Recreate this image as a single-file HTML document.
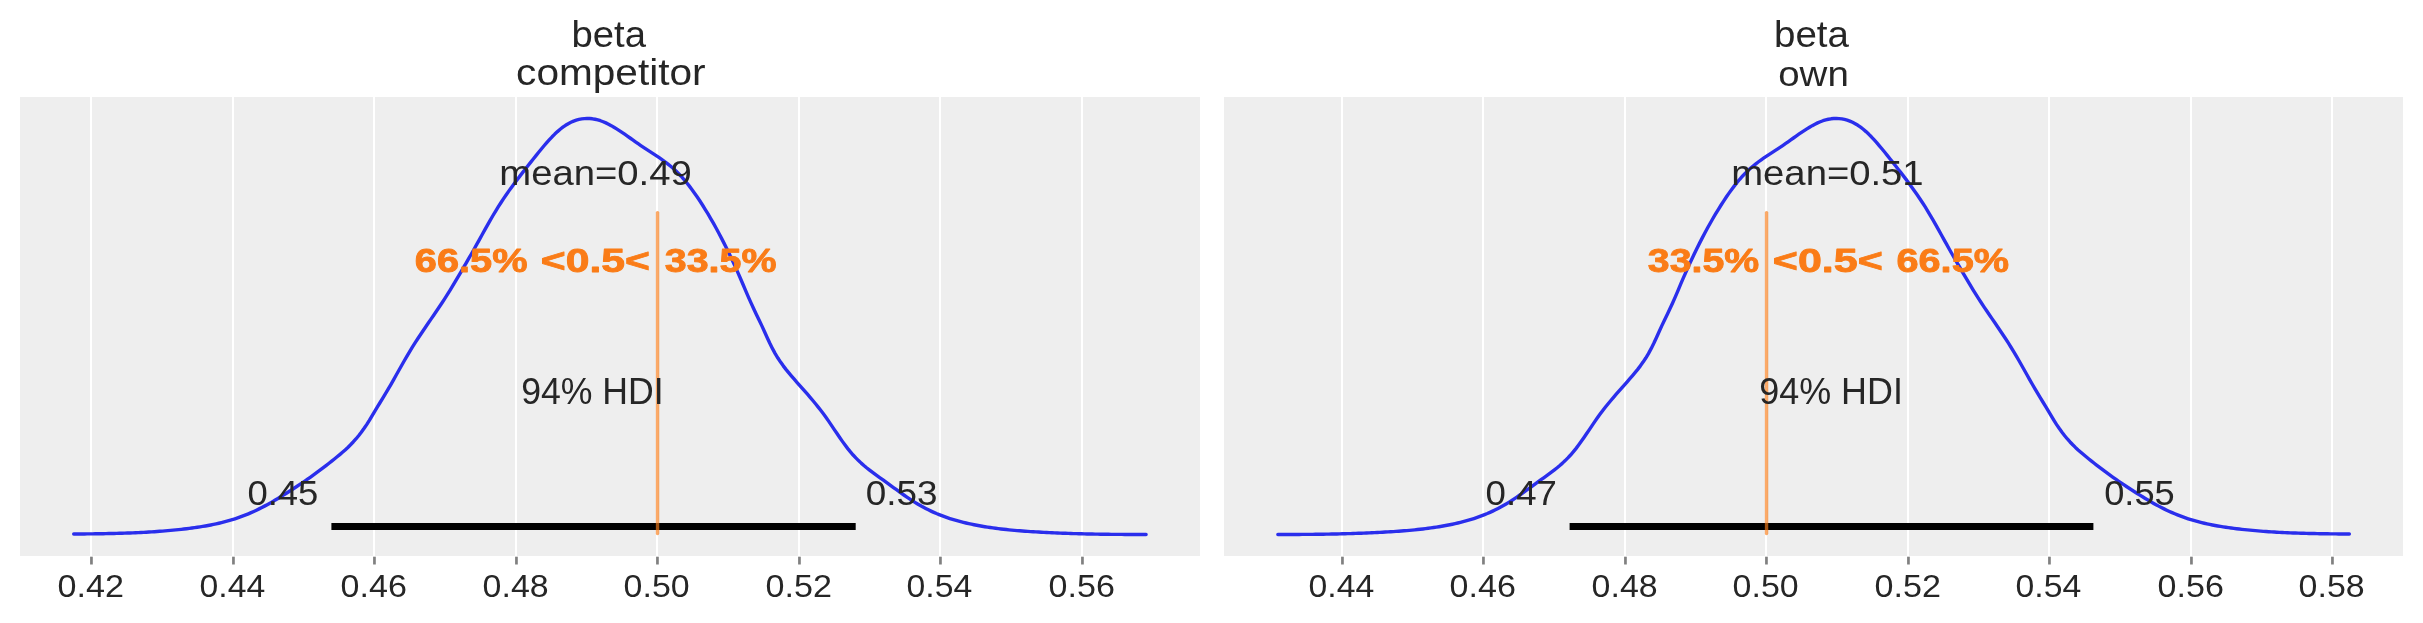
<!DOCTYPE html>
<html lang="en">
<head>
<meta charset="utf-8">
<title>Posterior plot: beta competitor / beta own</title>
<style>
html,body{margin:0;padding:0;background:#ffffff;}
body{width:2423px;height:623px;overflow:hidden;font-family:"Liberation Sans",sans-serif;}
svg{display:block;will-change:transform;}
text{font-family:"Liberation Sans",sans-serif;}
</style>
</head>
<body>
<svg width="2423" height="623" viewBox="0 0 2423 623">
<rect x="0" y="0" width="2423" height="623" fill="#ffffff"/>

<g id="panel-competitor">
<rect x="20" y="97" width="1180" height="459" fill="#eeeeee"/>
<rect x="90" y="97" width="2" height="459" fill="#ffffff"/>
<rect x="232" y="97" width="2" height="459" fill="#ffffff"/>
<rect x="373" y="97" width="2" height="459" fill="#ffffff"/>
<rect x="515" y="97" width="2" height="459" fill="#ffffff"/>
<rect x="656" y="97" width="2" height="459" fill="#ffffff"/>
<rect x="798" y="97" width="2" height="459" fill="#ffffff"/>
<rect x="939" y="97" width="2" height="459" fill="#ffffff"/>
<rect x="1081" y="97" width="2" height="459" fill="#ffffff"/>
<rect x="90.10" y="556.7" width="2.7" height="7.8" fill="#808080"/>
<rect x="232.10" y="556.7" width="2.7" height="7.8" fill="#808080"/>
<rect x="373.10" y="556.7" width="2.7" height="7.8" fill="#808080"/>
<rect x="515.10" y="556.7" width="2.7" height="7.8" fill="#808080"/>
<rect x="656.10" y="556.7" width="2.7" height="7.8" fill="#808080"/>
<rect x="798.10" y="556.7" width="2.7" height="7.8" fill="#808080"/>
<rect x="939.10" y="556.7" width="2.7" height="7.8" fill="#808080"/>
<rect x="1081.10" y="556.7" width="2.7" height="7.8" fill="#808080"/>
<path d="M73.70,534.06 L76.39,534.04 L79.08,534.01 L81.76,533.98 L84.45,533.95 L87.14,533.92 L89.83,533.88 L92.51,533.85 L95.20,533.81 L97.89,533.77 L100.58,533.73 L103.26,533.68 L105.95,533.63 L108.64,533.57 L111.33,533.52 L114.02,533.45 L116.70,533.38 L119.39,533.31 L122.08,533.23 L124.77,533.14 L127.45,533.05 L130.14,532.95 L132.83,532.84 L135.52,532.73 L138.21,532.61 L140.89,532.48 L143.58,532.34 L146.27,532.19 L148.96,532.04 L151.64,531.87 L154.33,531.70 L157.02,531.51 L159.71,531.32 L162.39,531.11 L165.08,530.89 L167.77,530.66 L170.46,530.42 L173.15,530.17 L175.83,529.90 L178.52,529.62 L181.21,529.33 L183.90,529.03 L186.58,528.71 L189.27,528.37 L191.96,528.02 L194.65,527.65 L197.34,527.27 L200.02,526.85 L202.71,526.42 L205.40,525.96 L208.09,525.48 L210.77,524.96 L213.46,524.42 L216.15,523.84 L218.84,523.23 L221.52,522.59 L224.21,521.90 L226.90,521.18 L229.59,520.42 L232.28,519.62 L234.96,518.77 L237.65,517.87 L240.34,516.93 L243.03,515.94 L245.71,514.90 L248.40,513.81 L251.09,512.66 L253.78,511.46 L256.46,510.20 L259.15,508.89 L261.84,507.53 L264.53,506.12 L267.22,504.66 L269.90,503.17 L272.59,501.63 L275.28,500.06 L277.97,498.46 L280.65,496.82 L283.34,495.16 L286.03,493.47 L288.72,491.76 L291.41,490.02 L294.09,488.27 L296.78,486.50 L299.47,484.70 L302.16,482.88 L304.84,481.04 L307.53,479.18 L310.22,477.29 L312.91,475.37 L315.59,473.43 L318.28,471.46 L320.97,469.46 L323.66,467.43 L326.35,465.37 L329.03,463.27 L331.72,461.15 L334.41,458.99 L337.10,456.80 L339.78,454.57 L342.47,452.28 L345.16,449.91 L347.85,447.41 L350.54,444.78 L353.22,441.98 L355.91,438.98 L358.60,435.76 L361.29,432.30 L363.97,428.57 L366.66,424.58 L369.35,420.30 L372.04,415.80 L374.72,411.28 L377.41,406.85 L380.10,402.49 L382.79,398.13 L385.48,393.71 L388.16,389.18 L390.85,384.53 L393.54,379.81 L396.23,375.03 L398.91,370.25 L401.60,365.48 L404.29,360.76 L406.98,356.13 L409.66,351.61 L412.35,347.22 L415.04,342.95 L417.73,338.79 L420.42,334.72 L423.10,330.71 L425.79,326.75 L428.48,322.83 L431.17,318.91 L433.85,314.99 L436.54,311.05 L439.23,307.07 L441.92,303.03 L444.61,298.91 L447.29,294.70 L449.98,290.37 L452.67,285.94 L455.36,281.42 L458.04,276.86 L460.73,272.27 L463.42,267.68 L466.11,263.08 L468.79,258.45 L471.48,253.77 L474.17,249.01 L476.86,244.19 L479.55,239.34 L482.23,234.48 L484.92,229.64 L487.61,224.84 L490.30,220.12 L492.98,215.51 L495.67,211.02 L498.36,206.69 L501.05,202.49 L503.74,198.43 L506.42,194.48 L509.11,190.64 L511.80,186.90 L514.49,183.24 L517.17,179.65 L519.86,176.13 L522.55,172.65 L525.24,169.21 L527.92,165.80 L530.61,162.39 L533.30,159.00 L535.99,155.62 L538.68,152.27 L541.36,148.98 L544.05,145.77 L546.74,142.65 L549.43,139.66 L552.11,136.80 L554.80,134.11 L557.49,131.59 L560.18,129.28 L562.86,127.19 L565.55,125.33 L568.24,123.71 L570.93,122.31 L573.62,121.14 L576.30,120.19 L578.99,119.45 L581.68,118.92 L584.37,118.59 L587.05,118.47 L589.74,118.55 L592.43,118.81 L595.12,119.27 L597.81,119.91 L600.49,120.73 L603.18,121.73 L605.87,122.88 L608.56,124.19 L611.24,125.63 L613.93,127.18 L616.62,128.83 L619.31,130.57 L621.99,132.37 L624.68,134.22 L627.37,136.10 L630.06,138.00 L632.75,139.91 L635.43,141.81 L638.12,143.70 L640.81,145.55 L643.50,147.37 L646.18,149.14 L648.87,150.88 L651.56,152.61 L654.25,154.35 L656.94,156.12 L659.62,157.93 L662.31,159.80 L665.00,161.76 L667.69,163.81 L670.37,165.99 L673.06,168.30 L675.75,170.76 L678.44,173.40 L681.12,176.24 L683.81,179.26 L686.50,182.48 L689.19,185.87 L691.88,189.43 L694.56,193.15 L697.25,197.03 L699.94,201.06 L702.63,205.23 L705.31,209.53 L708.00,213.96 L710.69,218.52 L713.38,223.21 L716.06,228.04 L718.75,233.01 L721.44,238.12 L724.13,243.37 L726.82,248.77 L729.50,254.32 L732.19,260.01 L734.88,265.85 L737.57,271.83 L740.25,277.95 L742.94,284.21 L745.63,290.56 L748.32,296.84 L751.01,302.93 L753.69,308.79 L756.38,314.42 L759.07,319.97 L761.76,325.64 L764.44,331.53 L767.13,337.51 L769.82,343.31 L772.51,348.69 L775.19,353.58 L777.88,358.02 L780.57,362.10 L783.26,365.86 L785.95,369.36 L788.63,372.67 L791.32,375.86 L794.01,378.96 L796.70,382.03 L799.38,385.07 L802.07,388.10 L804.76,391.15 L807.45,394.21 L810.14,397.32 L812.82,400.49 L815.51,403.73 L818.20,407.07 L820.89,410.51 L823.57,414.08 L826.26,417.80 L828.95,421.65 L831.64,425.59 L834.32,429.58 L837.01,433.56 L839.70,437.51 L842.39,441.36 L845.08,445.08 L847.76,448.62 L850.45,451.94 L853.14,455.03 L855.83,457.91 L858.51,460.60 L861.20,463.13 L863.89,465.50 L866.58,467.75 L869.26,469.89 L871.95,471.95 L874.64,473.94 L877.33,475.89 L880.02,477.80 L882.70,479.72 L885.39,481.65 L888.08,483.59 L890.77,485.55 L893.45,487.52 L896.14,489.48 L898.83,491.42 L901.52,493.35 L904.21,495.25 L906.89,497.11 L909.58,498.93 L912.27,500.69 L914.96,502.39 L917.64,504.02 L920.33,505.58 L923.02,507.07 L925.71,508.49 L928.39,509.84 L931.08,511.13 L933.77,512.36 L936.46,513.53 L939.15,514.63 L941.83,515.69 L944.52,516.69 L947.21,517.64 L949.90,518.54 L952.58,519.39 L955.27,520.19 L957.96,520.96 L960.65,521.68 L963.34,522.36 L966.02,523.01 L968.71,523.63 L971.40,524.21 L974.09,524.76 L976.77,525.28 L979.46,525.78 L982.15,526.25 L984.84,526.70 L987.52,527.13 L990.21,527.53 L992.90,527.92 L995.59,528.28 L998.28,528.63 L1000.96,528.96 L1003.65,529.27 L1006.34,529.56 L1009.03,529.84 L1011.71,530.10 L1014.40,530.35 L1017.09,530.58 L1019.78,530.81 L1022.46,531.02 L1025.15,531.22 L1027.84,531.41 L1030.53,531.58 L1033.22,531.76 L1035.90,531.92 L1038.59,532.07 L1041.28,532.22 L1043.97,532.37 L1046.65,532.51 L1049.34,532.64 L1052.03,532.77 L1054.72,532.89 L1057.41,533.00 L1060.09,533.11 L1062.78,533.22 L1065.47,533.32 L1068.16,533.41 L1070.84,533.50 L1073.53,533.59 L1076.22,533.67 L1078.91,533.75 L1081.59,533.82 L1084.28,533.89 L1086.97,533.95 L1089.66,534.01 L1092.35,534.06 L1095.03,534.11 L1097.72,534.16 L1100.41,534.20 L1103.10,534.24 L1105.78,534.28 L1108.47,534.31 L1111.16,534.34 L1113.85,534.37 L1116.54,534.39 L1119.22,534.41 L1121.91,534.42 L1124.60,534.44 L1127.29,534.45 L1129.97,534.46 L1132.66,534.46 L1135.35,534.46 L1138.04,534.46 L1140.72,534.46 L1143.41,534.46 L1146.10,534.45" fill="none" stroke="#2a2eec" stroke-width="3.4" stroke-linecap="round" stroke-linejoin="round"/>
<line x1="331.4" y1="526.4" x2="855.7" y2="526.4" stroke="#000000" stroke-width="7" stroke-linecap="butt"/>
<line x1="657.55" y1="212.6" x2="657.55" y2="533.5" stroke="#fa7c17" stroke-opacity="0.65" stroke-width="3.4" stroke-linecap="round"/>
</g>
<g id="panel-own">
<rect x="1224" y="97" width="1179" height="459" fill="#eeeeee"/>
<rect x="1341" y="97" width="2" height="459" fill="#ffffff"/>
<rect x="1482" y="97" width="2" height="459" fill="#ffffff"/>
<rect x="1624" y="97" width="2" height="459" fill="#ffffff"/>
<rect x="1765" y="97" width="2" height="459" fill="#ffffff"/>
<rect x="1907" y="97" width="2" height="459" fill="#ffffff"/>
<rect x="2048" y="97" width="2" height="459" fill="#ffffff"/>
<rect x="2190" y="97" width="2" height="459" fill="#ffffff"/>
<rect x="2331" y="97" width="2" height="459" fill="#ffffff"/>
<rect x="1341.10" y="556.7" width="2.7" height="7.8" fill="#808080"/>
<rect x="1482.10" y="556.7" width="2.7" height="7.8" fill="#808080"/>
<rect x="1624.10" y="556.7" width="2.7" height="7.8" fill="#808080"/>
<rect x="1765.10" y="556.7" width="2.7" height="7.8" fill="#808080"/>
<rect x="1907.10" y="556.7" width="2.7" height="7.8" fill="#808080"/>
<rect x="2048.10" y="556.7" width="2.7" height="7.8" fill="#808080"/>
<rect x="2190.10" y="556.7" width="2.7" height="7.8" fill="#808080"/>
<rect x="2331.10" y="556.7" width="2.7" height="7.8" fill="#808080"/>
<path d="M1277.85,534.45 L1280.54,534.46 L1283.23,534.46 L1285.91,534.46 L1288.60,534.46 L1291.28,534.46 L1293.97,534.46 L1296.65,534.45 L1299.34,534.44 L1302.02,534.42 L1304.71,534.41 L1307.39,534.39 L1310.08,534.37 L1312.77,534.34 L1315.45,534.31 L1318.14,534.28 L1320.82,534.24 L1323.51,534.20 L1326.19,534.16 L1328.88,534.11 L1331.56,534.06 L1334.25,534.01 L1336.93,533.95 L1339.62,533.89 L1342.30,533.82 L1344.99,533.75 L1347.68,533.67 L1350.36,533.59 L1353.05,533.50 L1355.73,533.41 L1358.42,533.32 L1361.10,533.22 L1363.79,533.11 L1366.47,533.00 L1369.16,532.89 L1371.84,532.77 L1374.53,532.64 L1377.22,532.51 L1379.90,532.37 L1382.59,532.22 L1385.27,532.07 L1387.96,531.92 L1390.64,531.76 L1393.33,531.58 L1396.01,531.41 L1398.70,531.22 L1401.38,531.02 L1404.07,530.81 L1406.76,530.58 L1409.44,530.35 L1412.13,530.10 L1414.81,529.84 L1417.50,529.56 L1420.18,529.27 L1422.87,528.96 L1425.55,528.63 L1428.24,528.28 L1430.92,527.92 L1433.61,527.53 L1436.30,527.13 L1438.98,526.70 L1441.67,526.25 L1444.35,525.78 L1447.04,525.28 L1449.72,524.76 L1452.41,524.21 L1455.09,523.63 L1457.78,523.01 L1460.46,522.36 L1463.15,521.68 L1465.84,520.96 L1468.52,520.19 L1471.21,519.39 L1473.89,518.54 L1476.58,517.64 L1479.26,516.69 L1481.95,515.69 L1484.63,514.63 L1487.32,513.53 L1490.00,512.36 L1492.69,511.13 L1495.38,509.84 L1498.06,508.49 L1500.75,507.07 L1503.43,505.58 L1506.12,504.02 L1508.80,502.39 L1511.49,500.69 L1514.17,498.93 L1516.86,497.11 L1519.54,495.25 L1522.23,493.35 L1524.91,491.42 L1527.60,489.48 L1530.29,487.52 L1532.97,485.55 L1535.66,483.59 L1538.34,481.65 L1541.03,479.72 L1543.71,477.80 L1546.40,475.89 L1549.08,473.94 L1551.77,471.95 L1554.45,469.89 L1557.14,467.75 L1559.83,465.50 L1562.51,463.13 L1565.20,460.60 L1567.88,457.91 L1570.57,455.03 L1573.25,451.94 L1575.94,448.62 L1578.62,445.08 L1581.31,441.36 L1583.99,437.51 L1586.68,433.56 L1589.37,429.58 L1592.05,425.59 L1594.74,421.65 L1597.42,417.80 L1600.11,414.08 L1602.79,410.51 L1605.48,407.07 L1608.16,403.73 L1610.85,400.49 L1613.53,397.32 L1616.22,394.21 L1618.91,391.15 L1621.59,388.10 L1624.28,385.07 L1626.96,382.03 L1629.65,378.96 L1632.33,375.86 L1635.02,372.67 L1637.70,369.36 L1640.39,365.86 L1643.07,362.10 L1645.76,358.02 L1648.45,353.58 L1651.13,348.69 L1653.82,343.31 L1656.50,337.51 L1659.19,331.53 L1661.87,325.64 L1664.56,319.97 L1667.24,314.42 L1669.93,308.79 L1672.61,302.93 L1675.30,296.84 L1677.99,290.56 L1680.67,284.21 L1683.36,277.95 L1686.04,271.83 L1688.73,265.85 L1691.41,260.01 L1694.10,254.32 L1696.78,248.77 L1699.47,243.37 L1702.15,238.12 L1704.84,233.01 L1707.52,228.04 L1710.21,223.21 L1712.90,218.52 L1715.58,213.96 L1718.27,209.53 L1720.95,205.23 L1723.64,201.06 L1726.32,197.03 L1729.01,193.15 L1731.69,189.43 L1734.38,185.87 L1737.06,182.48 L1739.75,179.26 L1742.44,176.24 L1745.12,173.40 L1747.81,170.76 L1750.49,168.30 L1753.18,165.99 L1755.86,163.81 L1758.55,161.76 L1761.23,159.80 L1763.92,157.93 L1766.60,156.12 L1769.29,154.35 L1771.98,152.61 L1774.66,150.88 L1777.35,149.14 L1780.03,147.37 L1782.72,145.55 L1785.40,143.70 L1788.09,141.81 L1790.77,139.91 L1793.46,138.00 L1796.14,136.10 L1798.83,134.22 L1801.52,132.37 L1804.20,130.57 L1806.89,128.83 L1809.57,127.18 L1812.26,125.63 L1814.94,124.19 L1817.63,122.88 L1820.31,121.73 L1823.00,120.73 L1825.68,119.91 L1828.37,119.27 L1831.06,118.81 L1833.74,118.55 L1836.43,118.47 L1839.11,118.59 L1841.80,118.92 L1844.48,119.45 L1847.17,120.19 L1849.85,121.14 L1852.54,122.31 L1855.22,123.71 L1857.91,125.33 L1860.60,127.19 L1863.28,129.28 L1865.97,131.59 L1868.65,134.11 L1871.34,136.80 L1874.02,139.66 L1876.71,142.65 L1879.39,145.77 L1882.08,148.98 L1884.76,152.27 L1887.45,155.62 L1890.13,159.00 L1892.82,162.39 L1895.51,165.80 L1898.19,169.21 L1900.88,172.65 L1903.56,176.13 L1906.25,179.65 L1908.93,183.24 L1911.62,186.90 L1914.30,190.64 L1916.99,194.48 L1919.67,198.43 L1922.36,202.49 L1925.05,206.69 L1927.73,211.02 L1930.42,215.51 L1933.10,220.12 L1935.79,224.84 L1938.47,229.64 L1941.16,234.48 L1943.84,239.34 L1946.53,244.19 L1949.21,249.01 L1951.90,253.77 L1954.59,258.45 L1957.27,263.08 L1959.96,267.68 L1962.64,272.27 L1965.33,276.86 L1968.01,281.42 L1970.70,285.94 L1973.38,290.37 L1976.07,294.70 L1978.75,298.91 L1981.44,303.03 L1984.13,307.07 L1986.81,311.05 L1989.50,314.99 L1992.18,318.91 L1994.87,322.83 L1997.55,326.75 L2000.24,330.71 L2002.92,334.72 L2005.61,338.79 L2008.29,342.95 L2010.98,347.22 L2013.67,351.61 L2016.35,356.13 L2019.04,360.76 L2021.72,365.48 L2024.41,370.25 L2027.09,375.03 L2029.78,379.81 L2032.46,384.53 L2035.15,389.18 L2037.83,393.71 L2040.52,398.13 L2043.21,402.49 L2045.89,406.85 L2048.58,411.28 L2051.26,415.80 L2053.95,420.30 L2056.63,424.58 L2059.32,428.57 L2062.00,432.30 L2064.69,435.76 L2067.37,438.98 L2070.06,441.98 L2072.75,444.78 L2075.43,447.41 L2078.12,449.91 L2080.80,452.28 L2083.49,454.57 L2086.17,456.80 L2088.86,458.99 L2091.54,461.15 L2094.23,463.27 L2096.91,465.37 L2099.60,467.43 L2102.28,469.46 L2104.97,471.46 L2107.66,473.43 L2110.34,475.37 L2113.03,477.29 L2115.71,479.18 L2118.40,481.04 L2121.08,482.88 L2123.77,484.70 L2126.45,486.50 L2129.14,488.27 L2131.82,490.02 L2134.51,491.76 L2137.20,493.47 L2139.88,495.16 L2142.57,496.82 L2145.25,498.46 L2147.94,500.06 L2150.62,501.63 L2153.31,503.17 L2155.99,504.66 L2158.68,506.12 L2161.36,507.53 L2164.05,508.89 L2166.74,510.20 L2169.42,511.46 L2172.11,512.66 L2174.79,513.81 L2177.48,514.90 L2180.16,515.94 L2182.85,516.93 L2185.53,517.87 L2188.22,518.77 L2190.90,519.62 L2193.59,520.42 L2196.28,521.18 L2198.96,521.90 L2201.65,522.59 L2204.33,523.23 L2207.02,523.84 L2209.70,524.42 L2212.39,524.96 L2215.07,525.48 L2217.76,525.96 L2220.44,526.42 L2223.13,526.85 L2225.82,527.27 L2228.50,527.65 L2231.19,528.02 L2233.87,528.37 L2236.56,528.71 L2239.24,529.03 L2241.93,529.33 L2244.61,529.62 L2247.30,529.90 L2249.98,530.17 L2252.67,530.42 L2255.36,530.66 L2258.04,530.89 L2260.73,531.11 L2263.41,531.32 L2266.10,531.51 L2268.78,531.70 L2271.47,531.87 L2274.15,532.04 L2276.84,532.19 L2279.52,532.34 L2282.21,532.48 L2284.89,532.61 L2287.58,532.73 L2290.27,532.84 L2292.95,532.95 L2295.64,533.05 L2298.32,533.14 L2301.01,533.23 L2303.69,533.31 L2306.38,533.38 L2309.06,533.45 L2311.75,533.52 L2314.43,533.57 L2317.12,533.63 L2319.81,533.68 L2322.49,533.73 L2325.18,533.77 L2327.86,533.81 L2330.55,533.85 L2333.23,533.88 L2335.92,533.92 L2338.60,533.95 L2341.29,533.98 L2343.97,534.01 L2346.66,534.04 L2349.35,534.06" fill="none" stroke="#2a2eec" stroke-width="3.4" stroke-linecap="round" stroke-linejoin="round"/>
<line x1="1569.6" y1="526.4" x2="2093.4" y2="526.4" stroke="#000000" stroke-width="7" stroke-linecap="butt"/>
<line x1="1766.55" y1="212.6" x2="1766.55" y2="533.5" stroke="#fa7c17" stroke-opacity="0.65" stroke-width="3.4" stroke-linecap="round"/>
</g>
<g id="labels">
<text transform="translate(571.56,47.23) scale(1.0335,1.0000)" font-size="37.01" font-weight="normal" fill="#262626" xml:space="preserve">beta</text>
<text transform="translate(516.12,84.83) scale(1.0967,1.0000)" font-size="37.01" font-weight="normal" fill="#262626" xml:space="preserve">competitor</text>
<text transform="translate(499.36,184.95) scale(1.0820,1.0000)" font-size="35.35" font-weight="normal" fill="#262626" xml:space="preserve">mean=0.49</text>
<text transform="translate(414.86,272.42) scale(1.1700,1.0000)" font-size="33.97" font-weight="bold" fill="#fa7c17" stroke="#fa7c17" stroke-width="0.88" stroke-linejoin="round" xml:space="preserve">66.5%</text>
<text transform="translate(540.87,272.42) scale(1.2551,1.0000)" font-size="33.97" font-weight="bold" fill="#fa7c17" stroke="#fa7c17" stroke-width="0.88" stroke-linejoin="round" xml:space="preserve">&lt;0.5&lt;</text>
<text transform="translate(664.76,272.42) scale(1.1607,1.0000)" font-size="33.97" font-weight="bold" fill="#fa7c17" stroke="#fa7c17" stroke-width="0.88" stroke-linejoin="round" xml:space="preserve">33.5%</text>
<text transform="translate(521.15,403.64) scale(0.9843,1.0000)" font-size="36.20" font-weight="normal" fill="#262626" xml:space="preserve">94% HDI</text>
<text transform="translate(247.39,504.85) scale(1.0273,1.0000)" font-size="35.49" font-weight="normal" fill="#262626" xml:space="preserve">0.45</text>
<text transform="translate(865.67,504.85) scale(1.0391,1.0000)" font-size="35.49" font-weight="normal" fill="#262626" xml:space="preserve">0.53</text>
<text transform="translate(57.59,597.49) scale(1.0963,1.0000)" font-size="31.13" font-weight="normal" fill="#262626" xml:space="preserve">0.42</text>
<text transform="translate(199.60,597.49) scale(1.0846,1.0000)" font-size="31.13" font-weight="normal" fill="#262626" xml:space="preserve">0.44</text>
<text transform="translate(340.59,597.49) scale(1.0933,1.0000)" font-size="31.13" font-weight="normal" fill="#262626" xml:space="preserve">0.46</text>
<text transform="translate(482.59,597.49) scale(1.0904,1.0000)" font-size="31.13" font-weight="normal" fill="#262626" xml:space="preserve">0.48</text>
<text transform="translate(623.59,597.49) scale(1.0904,1.0000)" font-size="31.13" font-weight="normal" fill="#262626" xml:space="preserve">0.50</text>
<text transform="translate(765.59,597.49) scale(1.0963,1.0000)" font-size="31.13" font-weight="normal" fill="#262626" xml:space="preserve">0.52</text>
<text transform="translate(906.60,597.49) scale(1.0846,1.0000)" font-size="31.13" font-weight="normal" fill="#262626" xml:space="preserve">0.54</text>
<text transform="translate(1048.59,597.49) scale(1.0933,1.0000)" font-size="31.13" font-weight="normal" fill="#262626" xml:space="preserve">0.56</text>
<text transform="translate(1774.05,47.23) scale(1.0406,1.0000)" font-size="37.01" font-weight="normal" fill="#262626" xml:space="preserve">beta</text>
<text transform="translate(1778.21,86.24) scale(1.0748,1.0000)" font-size="35.82" font-weight="normal" fill="#262626" xml:space="preserve">own</text>
<text transform="translate(1731.26,184.95) scale(1.0820,1.0000)" font-size="35.35" font-weight="normal" fill="#262626" xml:space="preserve">mean=0.51</text>
<text transform="translate(1647.86,272.42) scale(1.1565,1.0000)" font-size="33.97" font-weight="bold" fill="#fa7c17" stroke="#fa7c17" stroke-width="0.88" stroke-linejoin="round" xml:space="preserve">33.5%</text>
<text transform="translate(1772.86,272.42) scale(1.2645,1.0000)" font-size="33.97" font-weight="bold" fill="#fa7c17" stroke="#fa7c17" stroke-width="0.88" stroke-linejoin="round" xml:space="preserve">&lt;0.5&lt;</text>
<text transform="translate(1896.46,272.42) scale(1.1690,1.0000)" font-size="33.97" font-weight="bold" fill="#fa7c17" stroke="#fa7c17" stroke-width="0.88" stroke-linejoin="round" xml:space="preserve">66.5%</text>
<text transform="translate(1759.34,403.64) scale(0.9914,1.0000)" font-size="36.20" font-weight="normal" fill="#262626" xml:space="preserve">94% HDI</text>
<text transform="translate(1485.58,504.85) scale(1.0328,1.0000)" font-size="35.49" font-weight="normal" fill="#262626" xml:space="preserve">0.47</text>
<text transform="translate(2104.20,504.85) scale(1.0212,1.0000)" font-size="35.49" font-weight="normal" fill="#262626" xml:space="preserve">0.55</text>
<text transform="translate(1308.60,597.49) scale(1.0846,1.0000)" font-size="31.13" font-weight="normal" fill="#262626" xml:space="preserve">0.44</text>
<text transform="translate(1449.59,597.49) scale(1.0933,1.0000)" font-size="31.13" font-weight="normal" fill="#262626" xml:space="preserve">0.46</text>
<text transform="translate(1591.59,597.49) scale(1.0904,1.0000)" font-size="31.13" font-weight="normal" fill="#262626" xml:space="preserve">0.48</text>
<text transform="translate(1732.59,597.49) scale(1.0904,1.0000)" font-size="31.13" font-weight="normal" fill="#262626" xml:space="preserve">0.50</text>
<text transform="translate(1874.59,597.49) scale(1.0963,1.0000)" font-size="31.13" font-weight="normal" fill="#262626" xml:space="preserve">0.52</text>
<text transform="translate(2015.60,597.49) scale(1.0846,1.0000)" font-size="31.13" font-weight="normal" fill="#262626" xml:space="preserve">0.54</text>
<text transform="translate(2157.59,597.49) scale(1.0933,1.0000)" font-size="31.13" font-weight="normal" fill="#262626" xml:space="preserve">0.56</text>
<text transform="translate(2298.59,597.49) scale(1.0904,1.0000)" font-size="31.13" font-weight="normal" fill="#262626" xml:space="preserve">0.58</text>
</g>
</svg>
</body>
</html>
